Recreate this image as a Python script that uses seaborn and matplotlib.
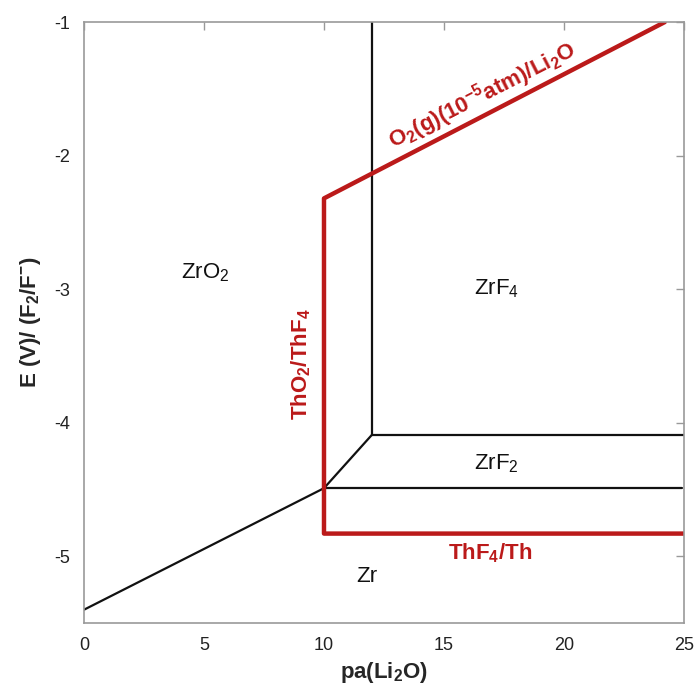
import matplotlib
matplotlib.use("Agg")
import matplotlib.pyplot as plt
import seaborn as sns
import pandas as pd

# --- data ---
zr_x1 = [0, 10];  zr_y1 = [-5.40, -4.49]
zr_x2 = [10, 12]; zr_y2 = [-4.49, -4.09]
zr_x3 = [12, 12]; zr_y3 = [-4.09, -1.0]
zr_x4 = [12, 25]; zr_y4 = [-4.09, -4.09]
zr_x5 = [10, 24.9]; zr_y5 = [-4.49, -4.49]
th_x = [25, 10, 10, 24.2]
th_y = [-4.83, -4.83, -2.32, -1.0]

xticks = [0, 5, 10, 15, 20, 25]
yticks = [-5, -4, -3, -2, -1]

sns.set_style("white")
plt.rcParams['font.family'] = ['Liberation Sans', 'DejaVu Sans']
plt.rcParams['mathtext.fontset'] = 'custom'
plt.rcParams['mathtext.rm'] = 'Liberation Sans'
plt.rcParams['mathtext.it'] = 'Liberation Sans'
plt.rcParams['mathtext.bf'] = 'Liberation Sans:bold'
plt.rcParams['mathtext.default'] = 'regular'

fig = plt.figure(figsize=(6.96, 6.90), dpi=100)
ax = fig.add_axes([0.1207, 0.097, 0.862, 0.871])

black = "#111111"
red = "#BB1A1A"
for xs, ys in [(zr_x1, zr_y1), (zr_x2, zr_y2), (zr_x3, zr_y3), (zr_x4, zr_y4), (zr_x5, zr_y5)]:
    df = pd.DataFrame({"x": xs, "y": ys})
    sns.lineplot(data=df, x="x", y="y", sort=False, estimator=None, color=black, lw=1.6, ax=ax)
df = pd.DataFrame({"x": th_x, "y": th_y})
sns.lineplot(data=df, x="x", y="y", sort=False, estimator=None, color=red, lw=3.2, ax=ax)

ax.set_xlim(0, 25)
ax.set_ylim(-5.5, -1)
ax.set_xticks(xticks)
ax.set_yticks(yticks)
ax.set_xticklabels([str(t) for t in xticks])
ax.set_yticklabels([str(t) for t in yticks])
ax.tick_params(direction='in', top=True, right=True, length=6, width=1, color='#999999',
               labelsize=13, pad=10, labelcolor='#222222')
for s in ax.spines.values():
    s.set_color('#999999')
    s.set_linewidth(1.2)

ax.set_xlabel(r'pa(Li$_\mathbf{2}$O)', fontsize=16, fontweight='bold', labelpad=4)
ax.set_ylabel(r'E (V)/ (F$_\mathbf{2}$/F$^\mathbf{-}$)', fontsize=16, fontweight='bold', labelpad=8)

fs = 16
ax.text(5.05, -2.88, r'ZrO$_2$', fontsize=fs, ha='center', va='center', color=black)
ax.text(17.2, -3.0, r'ZrF$_4$', fontsize=fs, ha='center', va='center', color=black)
ax.text(17.2, -4.31, r'ZrF$_2$', fontsize=fs, ha='center', va='center', color=black)
ax.text(11.8, -5.15, 'Zr', fontsize=fs, ha='center', va='center', color=black)
ax.text(16.9, -4.98, r'ThF$_\mathbf{4}$/Th', fontsize=fs, ha='center', va='center', color=red, fontweight='bold')
ax.text(9.05, -3.56, r'ThO$_\mathbf{2}$/ThF$_\mathbf{4}$', fontsize=fs, ha='center', va='center', color=red,
        fontweight='bold', rotation=90)
ax.text(16.6, -1.55, r'O$_\mathbf{2}$(g)(10$^\mathbf{-5}$atm)/Li$_\mathbf{2}$O', fontsize=fs, ha='center',
        va='center', color=red, fontweight='bold', rotation=27.0, rotation_mode='anchor')

fig.savefig("out.png", dpi=100)
